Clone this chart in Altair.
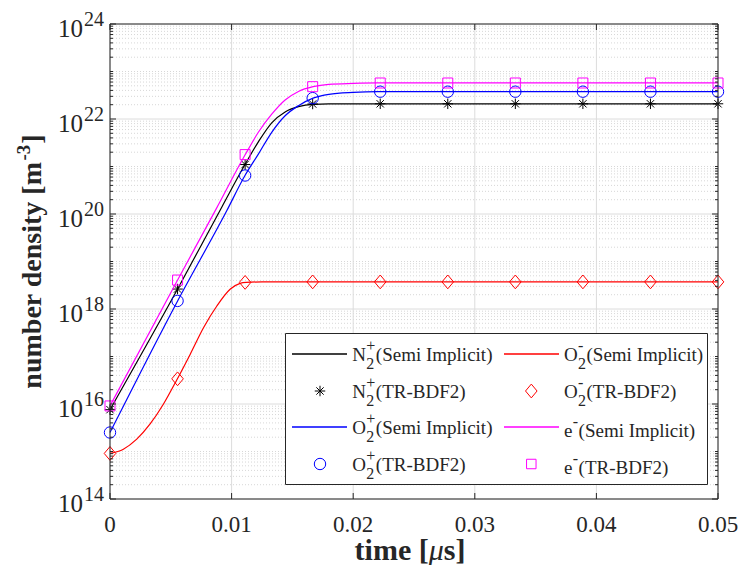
import altair as alt
import pandas as pd

FONT = "Liberation Serif"
W, H = 608, 475
AX = "#262626"

# ---------------- data ----------------
t_tr = [0.0, 0.005556, 0.011111, 0.016667, 0.022222, 0.027778, 0.033333, 0.038889, 0.044444, 0.05]
n2p_tr = [7.6e15, 2.63e18, 1.10e21, 2.07e22, 2.09e22, 2.09e22, 2.09e22, 2.09e22, 2.09e22, 2.09e22]
o2p_tr = [2.51e15, 1.48e18, 6.46e20, 2.75e22, 3.76e22, 3.76e22, 3.76e22, 3.76e22, 3.76e22, 3.76e22]
o2m_tr = [9.1e14, 3.39e16, 3.63e18, 3.72e18, 3.72e18, 3.72e18, 3.72e18, 3.72e18, 3.72e18, 3.72e18]
e_tr = [9.1e15, 4.07e18, 1.78e21, 4.79e22, 5.73e22, 5.73e22, 5.73e22, 5.73e22, 5.73e22, 5.73e22]

t_n2p_si = [0.0, 0.00556, 0.0092, 0.0111, 0.0122, 0.0133, 0.0144, 0.0155, 0.0167, 0.018, 0.02, 0.05]
n2p_si = [7.59e15, 2.63e18, 1.41e20, 1.10e21, 3.31e21, 8.32e21, 1.41e22, 1.82e22, 2.04e22, 2.09e22, 2.09e22, 2.09e22]

t_o2p_si = [0.0, 0.00556, 0.0096, 0.0111, 0.0122, 0.0133, 0.0144, 0.0155, 0.0167, 0.018, 0.02, 0.022, 0.05]
o2p_si = [2.51e15, 1.48e18, 1.17e20, 6.46e20, 1.82e21, 5.25e21, 1.17e22, 1.91e22, 2.75e22, 3.31e22, 3.63e22, 3.76e22, 3.76e22]

t_o2m_si = [0.0, 0.0011, 0.0022, 0.0033, 0.0044, 0.0055, 0.0066, 0.0077, 0.0088, 0.0099, 0.0107, 0.0112, 0.0125, 0.05]
o2m_si = [9.12e14, 1.12e15, 1.82e15, 3.80e15, 1.0e16, 3.24e16, 1.12e17, 4.07e17, 1.17e18, 2.63e18, 3.47e18, 3.63e18, 3.72e18, 3.72e18]

t_e_si = [0.0, 0.00556, 0.0088, 0.0111, 0.0122, 0.0133, 0.0144, 0.0155, 0.0167, 0.018, 0.02, 0.022, 0.05]
e_si = [9.12e15, 4.07e18, 1.38e20, 1.74e21, 5.25e21, 1.26e22, 2.51e22, 3.80e22, 4.79e22, 5.37e22, 5.62e22, 5.75e22, 5.75e22]

x_ticks = [0.0, 0.01, 0.02, 0.03, 0.04, 0.05]
x_tick_labels = ["0", "0.01", "0.02", "0.03", "0.04", "0.05"]
major_y = [1e14, 1e16, 1e18, 1e20, 1e22, 1e24]
major_exp = ["14", "16", "18", "20", "22", "24"]
minor_y = [k * 10.0 ** n for n in range(14, 24) for k in range(1, 10)
           if not (k == 1 and n % 2 == 0)]

# ---------------- helpers ----------------
ys = alt.Scale(type="log", domain=[1e14, 1e24], nice=False)
xs = alt.Scale(domain=[0.0, 0.05], nice=False)


def X(f):
    return alt.X(f + ":Q", scale=xs, axis=None)


def Y(f):
    return alt.Y(f + ":Q", scale=ys, axis=None)


one = pd.DataFrame({"k": [0]})
STAR = "M0,-1L0,1M-1,0L1,0M-0.7,-0.7L0.7,0.7M-0.7,0.7L0.7,-0.7"
DIAMOND = "M0,-1L0.84,0L0,1L-0.84,0Z"

layers = []
df_minor = pd.DataFrame({"v": minor_y})
df_major = pd.DataFrame({"v": major_y, "e": major_exp})
df_xt = pd.DataFrame({"t": x_ticks, "lab": x_tick_labels})

# grids
layers.append(alt.Chart(df_minor).mark_rule(color="#c6c6c6", strokeWidth=0.7, strokeDash=[1, 2])
              .encode(y=Y("v"), x=alt.value(0), x2=alt.value(W)))
layers.append(alt.Chart(df_major).mark_rule(color="#dcdcdc", strokeWidth=1)
              .encode(y=Y("v"), x=alt.value(0), x2=alt.value(W)))
layers.append(alt.Chart(df_xt).mark_rule(color="#dcdcdc", strokeWidth=1)
              .encode(x=X("t"), y=alt.value(0), y2=alt.value(H)))

# series
series = [
    (t_n2p_si, n2p_si, n2p_tr, "#000000", STAR, 110),
    (t_o2p_si, o2p_si, o2p_tr, "#0000ff", "circle", 130),
    (t_o2m_si, o2m_si, o2m_tr, "#ff0000", DIAMOND, 190),
    (t_e_si, e_si, e_tr, "#ff00ff", "square", 100),
]
for ts, vs, vt, col, shp, sz in series:
    layers.append(alt.Chart(pd.DataFrame({"t": ts, "v": vs}))
                  .mark_line(color=col, strokeWidth=1.2, interpolate="monotone")
                  .encode(x=X("t"), y=Y("v")))
    layers.append(alt.Chart(pd.DataFrame({"t": t_tr, "v": vt}))
                  .mark_point(shape=shp, size=sz, color=col, filled=False, strokeWidth=1, opacity=1)
                  .encode(x=X("t"), y=Y("v")))

# frame and ticks
layers.append(alt.Chart(one).mark_rect(fillOpacity=0, stroke=AX, strokeWidth=1)
              .encode(x=alt.value(0), x2=alt.value(W), y=alt.value(0), y2=alt.value(H)))
for (a, b, df) in [(0, 6, df_major), (W - 6, W, df_major), (0, 3, df_minor), (W - 3, W, df_minor)]:
    layers.append(alt.Chart(df).mark_rule(color=AX, strokeWidth=1)
                  .encode(y=Y("v"), x=alt.value(a), x2=alt.value(b)))
for (a, b) in [(H - 6, H), (0, 6)]:
    layers.append(alt.Chart(df_xt).mark_rule(color=AX, strokeWidth=1)
                  .encode(x=X("t"), y=alt.value(a), y2=alt.value(b)))

# tick labels
layers.append(alt.Chart(df_major).mark_text(font=FONT, fontSize=25, align="right", baseline="alphabetic",
                                            dy=13, color=AX)
              .encode(y=Y("v"), x=alt.value(-27), text=alt.value("10")))
layers.append(alt.Chart(df_major).mark_text(font=FONT, fontSize=20, align="left", baseline="alphabetic",
                                            dy=2, color=AX)
              .encode(y=Y("v"), x=alt.value(-26), text="e:N"))
layers.append(alt.Chart(df_xt).mark_text(font=FONT, fontSize=23, align="center", baseline="alphabetic",
                                         color=AX)
              .encode(x=X("t"), y=alt.value(H + 33), text="lab:N"))


def txt(s, x, y, size, weight="normal", style="normal", align="left", angle=0, color=AX):
    kw = dict(font=FONT, fontSize=size, fontWeight=weight, fontStyle=style, align=align,
              baseline="alphabetic", color=color)
    if angle:
        kw["angle"] = angle
    return alt.Chart(one).mark_text(**kw).encode(x=alt.value(x), y=alt.value(y), text=alt.value(s))


# x title: time [mu s]
fs_t = 30
w1 = 2.471 * fs_t
wmu = 0.5 * fs_t
w3 = 0.722 * fs_t
x0 = W / 2 - 4 - (w1 + wmu + w3) / 2
ty = H + 61
layers.append(txt("time [", x0, ty, fs_t, weight="bold"))
layers.append(txt("\u03bc", x0 + w1, ty, fs_t, style="italic"))
layers.append(txt("s]", x0 + w1 + wmu, ty, fs_t, weight="bold"))

# y title: number density [m^-3]
fs_y = 28
wa = 8.111 * fs_y
wb = 0.833 * 19
wc = 0.333 * fs_y
tot = wa + wb + wc + 2
yb = H / 2 + tot / 2
xb = -69
layers.append(txt("number density [m", xb, yb, fs_y, weight="bold", angle=270))
layers.append(txt("-3", xb - 11, yb - wa - 1, 19, weight="bold", angle=270))
layers.append(txt("]", xb, yb - wa - wb - 2, fs_y, weight="bold", angle=270))

# legend
LX0, LX1, LY0, LY1 = 175.5, 597.5, 309.5, 460.5
layers.append(alt.Chart(one).mark_rect(fill="white", stroke=AX, strokeWidth=1)
              .encode(x=alt.value(LX0), x2=alt.value(LX1), y=alt.value(LY0), y2=alt.value(LY1)))
cols = [dict(l0=182, l1=237, m=210.0, t=242.3), dict(l0=394, l1=449, m=421.3, t=454.0)]
rows = [330, 367, 403, 440]
legend_entries = [
    (0, 0, "line", "#000000", None, 0, "N", "+", "2", "(Semi Implicit)"),
    (0, 1, "mark", "#000000", STAR, 110, "N", "+", "2", "(TR-BDF2)"),
    (0, 2, "line", "#0000ff", None, 0, "O", "+", "2", "(Semi Implicit)"),
    (0, 3, "mark", "#0000ff", "circle", 130, "O", "+", "2", "(TR-BDF2)"),
    (1, 0, "line", "#ff0000", None, 0, "O", "-", "2", "(Semi Implicit)"),
    (1, 1, "mark", "#ff0000", DIAMOND, 190, "O", "-", "2", "(TR-BDF2)"),
    (1, 2, "line", "#ff00ff", None, 0, "e", "-", "", "(Semi Implicit)"),
    (1, 3, "mark", "#ff00ff", "square", 90, "e", "-", "", "(TR-BDF2)"),
]
base_w = {"N": 0.722, "O": 0.722, "e": 0.444}
sup_w = {"+": 0.564, "-": 0.333}
FL, FS = 19, 16
for c, r, kind, col, shp, sz, base, sup, sub, rest in legend_entries:
    cc = cols[c]
    yc = rows[r]
    if kind == "line":
        layers.append(alt.Chart(one).mark_rule(color=col, stroke=col, strokeWidth=1.3, opacity=1)
                      .encode(x=alt.value(cc["l0"]), x2=alt.value(cc["l1"]), y=alt.value(yc)))
    else:
        layers.append(alt.Chart(one).mark_point(shape=shp, size=sz, color=col, filled=False,
                                                strokeWidth=1, opacity=1)
                      .encode(x=alt.value(cc["m"]), y=alt.value(yc)))
    shift = 3 if sub == "" else 0
    bx = cc["t"]
    by = yc + 6.7 + shift
    layers.append(txt(base, bx, by, FL))
    sx = bx + base_w[base] * FL + 0.3
    layers.append(txt(sup, sx, yc - 3 + shift, FS))
    sw = sup_w[sup] * FS
    if sub:
        layers.append(txt(sub, sx, yc + 14.7, FS))
        sw = max(sw, 0.5 * FS)
    layers.append(txt(rest, sx + sw + 0.5, by, FL))

chart = alt.layer(*layers).properties(
    width=W, height=H,
    autosize=alt.AutoSizeParams(type="none"),
    padding={"left": 102, "top": 16, "right": 20, "bottom": 66},
).configure_view(strokeWidth=0)

chart.save("out.html", embed_options={"renderer": "svg", "actions": False})
